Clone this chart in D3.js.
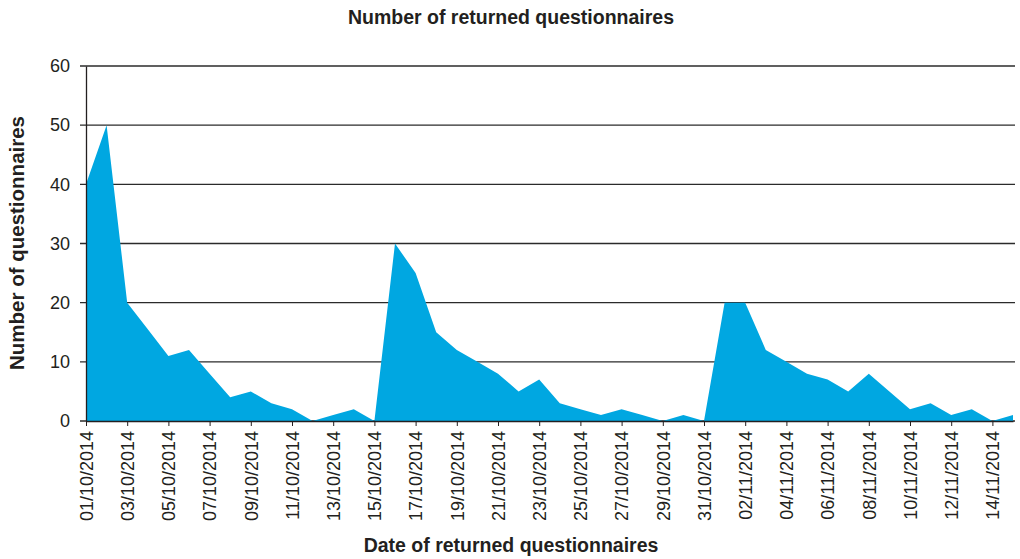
<!DOCTYPE html>
<meta charset="utf-8">
<style>
body { margin: 0; background: #fff; }
svg { display: block; font-family: "Liberation Sans", Arial, sans-serif; }
.title { font-weight: bold; font-size: 19.5px; fill: #231f20; }
.x-title { font-weight: bold; font-size: 19.5px; fill: #231f20; }
.y-title { font-weight: bold; font-size: 20.5px; fill: #231f20; }
.tick text { font-size: 18px; fill: #231f20; font-family: "Liberation Sans", Arial, sans-serif; }
.grid line { stroke: #2b2b2b; stroke-width: 1.4; }
.area { fill: #00a7e1; }
</style>
<svg width="1020" height="559"></svg>
<script src="https://d3js.org/d3.v7.min.js"></script>
<script>
// daily dates, 01/10/2014 - 15/11/2014
var dates = ["01/10/2014","02/10/2014","03/10/2014","04/10/2014","05/10/2014","06/10/2014",
  "07/10/2014","08/10/2014","09/10/2014","10/10/2014","11/10/2014","12/10/2014","13/10/2014",
  "14/10/2014","15/10/2014","16/10/2014","17/10/2014","18/10/2014","19/10/2014","20/10/2014",
  "21/10/2014","22/10/2014","23/10/2014","24/10/2014","25/10/2014","26/10/2014","27/10/2014",
  "28/10/2014","29/10/2014","30/10/2014","31/10/2014","01/11/2014","02/11/2014","03/11/2014",
  "04/11/2014","05/11/2014","06/11/2014","07/11/2014","08/11/2014","09/11/2014","10/11/2014",
  "11/11/2014","12/11/2014","13/11/2014","14/11/2014","15/11/2014"];

var returned = [40, 50, 20, 15.5, 11, 12, 8, 4, 5, 3, 2, 0, 1, 2, 0,
  30, 25, 15, 12, 10, 8, 5, 7, 3, 2, 1, 2, 1, 0, 1, 0,
  20, 20, 12, 10, 8, 7, 5, 8, 5, 2, 3, 1, 2, 0, 1];

var yTicks = [0, 10, 20, 30, 40, 50, 60];
var xTicks = dates.filter(function(d, i) { return i % 2 == 0; });

var svg = d3.select("svg"),
    plotLeft = 86, plotRight = 1013, plotTop = 66, plotBottom = 421;

var x = d3.scalePoint()
    .domain(dates)
    .range([plotLeft, plotRight]);

var y = d3.scaleLinear()
    .domain([0, 60])
    .range([plotBottom, plotTop]);

// gridlines
svg.append("g")
    .attr("class", "grid")
  .selectAll("line")
    .data(yTicks)
  .enter().append("line")
    .attr("x1", plotLeft - 6)
    .attr("x2", plotRight + 2)
    .attr("y1", function(d) { return y(d); })
    .attr("y2", function(d) { return y(d); });

var area = d3.area()
    .x(function(d, i) { return x(dates[i]); })
    .y0(y(0))
    .y1(function(d) { return y(d); });

svg.append("path")
    .datum(returned)
    .attr("class", "area")
    .attr("d", area);

// y axis
var yAxis = svg.append("g")
    .attr("transform", "translate(" + plotLeft + ",0)")
    .call(d3.axisLeft(y).tickValues(yTicks).tickSize(6).tickSizeOuter(0).tickPadding(10));
yAxis.select(".domain").attr("stroke", "#231f20").attr("stroke-width", 1.3);
yAxis.selectAll(".tick line").remove();

// x axis
var xAxis = svg.append("g")
    .attr("transform", "translate(0," + plotBottom + ")")
    .call(d3.axisBottom(x).tickValues(xTicks).tickSize(5).tickSizeOuter(0));
xAxis.select(".domain").attr("stroke", "#231f20").attr("stroke-width", 1.6);
xAxis.selectAll(".tick line").attr("stroke", "#231f20");
xAxis.selectAll(".tick text")
    .attr("transform", "rotate(-90)")
    .attr("text-anchor", "end")
    .attr("x", -10)
    .attr("y", 0)
    .attr("dy", "0.35em");

svg.append("text")
    .attr("class", "title")
    .attr("x", 511)
    .attr("y", 24)
    .attr("text-anchor", "middle")
    .text("Number of returned questionnaires");

svg.append("text")
    .attr("class", "x-title")
    .attr("x", 511)
    .attr("y", 552)
    .attr("text-anchor", "middle")
    .text("Date of returned questionnaires");

svg.append("text")
    .attr("class", "y-title")
    .attr("transform", "translate(24,243) rotate(-90)")
    .attr("text-anchor", "middle")
    .text("Number of questionnaires");
</script>
